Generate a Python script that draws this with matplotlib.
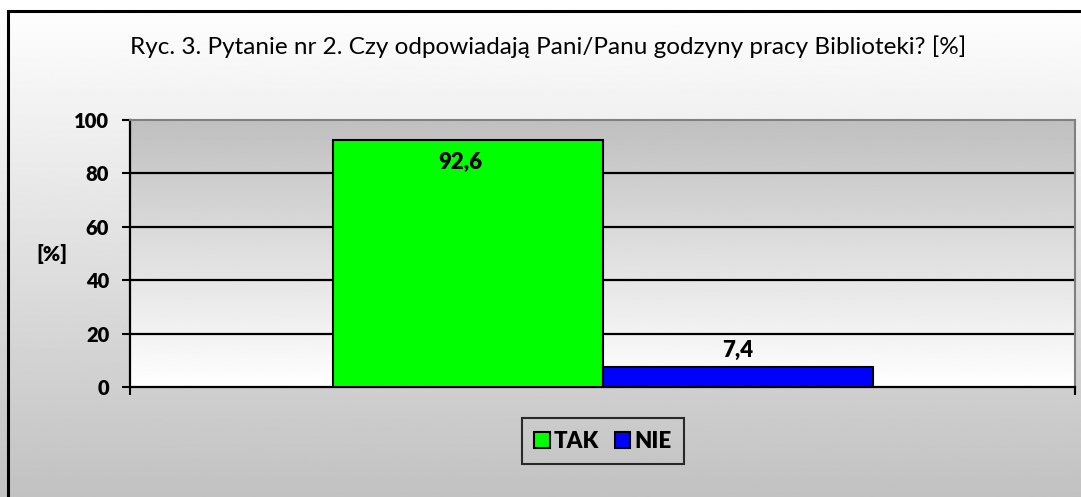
import numpy as np
import matplotlib.pyplot as plt
from matplotlib.patches import Rectangle

# dane wykresu
categories = ['TAK', 'NIE']
values = [92.6, 7.4]
value_labels = ['92,6', '7,4']
colors = ['#00ff00', '#0000ff']
y_ticks = [0, 20, 40, 60, 80, 100]

TITLE = 'Ryc. 3. Pytanie nr 2. Czy odpowiadają Pani/Panu godzyny pracy Biblioteki? [%]'

plt.rcParams['font.family'] = ['Lato', 'DejaVu Sans']
BOLD = 800

W, H = 1081, 497
fig = plt.figure(figsize=(W / 100, H / 100), dpi=100)

# tło całego wykresu: gradient od białego do szarego
bg = fig.add_axes([0, 0, 1, 1], zorder=-10)
grad = np.linspace(1.0, 0.76, 256).reshape(-1, 1)
bg.imshow(grad, cmap='gray', vmin=0, vmax=1, aspect='auto', extent=[0, 1, 0, 1])
bg.set_xlim(0, 1)
bg.set_ylim(0, 1)
bg.axis('off')
bg.add_patch(Rectangle((8 / W, -0.1), 1.2, (1 - 11 / H) + 0.1, fill=False,
                       edgecolor='black', linewidth=2.2))

# obszar kreślenia
left, right = 130 / W, 1075 / W
top, bottom = 120 / H, 387 / H
ax = fig.add_axes([left, 1 - bottom, right - left, bottom - top])
ax.set_xlim(-0.5, 1.5)
ax.set_ylim(0, 100)

pgrad = np.linspace(1.0, 0.75, 256).reshape(-1, 1)
ax.imshow(pgrad, cmap='gray', vmin=0, vmax=1, aspect='auto',
          extent=[-0.5, 1.5, 0, 100], origin='lower', zorder=0)

for y in y_ticks[1:-1]:
    ax.axhline(y, color='black', linewidth=1.6, zorder=1)

bar_w = 270 / 945 * 2
x = [0.5 - bar_w / 2, 0.5 + bar_w / 2]
bars = ax.bar(x, values, width=bar_w, color=colors, edgecolor='black',
              linewidth=1.5, zorder=3, label=categories)

# etykiety wartości
ax.text(x[0] - 0.015, values[0] - 8.3, value_labels[0], ha='center', va='center',
        fontsize=16, fontweight=BOLD, zorder=4)
ax.text(x[1], values[1] + 6.3, value_labels[1], ha='center', va='center',
        fontsize=16, fontweight=BOLD, zorder=4)

for s in ['top', 'right']:
    ax.spines[s].set_color('#808080')
    ax.spines[s].set_linewidth(1.5)
for s in ['left', 'bottom']:
    ax.spines[s].set_color('black')
    ax.spines[s].set_linewidth(1.6)

ax.set_yticks(y_ticks)
ax.set_yticklabels([str(t) for t in y_ticks], fontsize=14.5, fontweight=BOLD)
ax.tick_params(axis='y', length=6, width=1.5, direction='out', pad=9)
ax.set_xticks([-0.5, 1.5])
ax.set_xticklabels([])
ax.tick_params(axis='x', length=6, width=1.5, direction='out')

fig.text(52 / W, 1 - 254 / H, '[%]', fontsize=15, fontweight=BOLD,
         ha='center', va='center')
fig.text(548 / W, 1 - 47 / H, TITLE, fontsize=17.5, ha='center', va='center')

leg = fig.legend(handles=bars, labels=categories, loc='center',
                 bbox_to_anchor=(603 / W, 1 - 441 / H), ncol=2,
                 prop={'weight': BOLD, 'size': 16},
                 frameon=True, fancybox=False, edgecolor='black',
                 handlelength=0.7, handleheight=0.7, handletextpad=0.2,
                 columnspacing=0.7, borderpad=0.55, borderaxespad=0)
leg.get_frame().set_facecolor('none')
leg.get_frame().set_linewidth(1.5)

fig.savefig('out.png', dpi=100)
